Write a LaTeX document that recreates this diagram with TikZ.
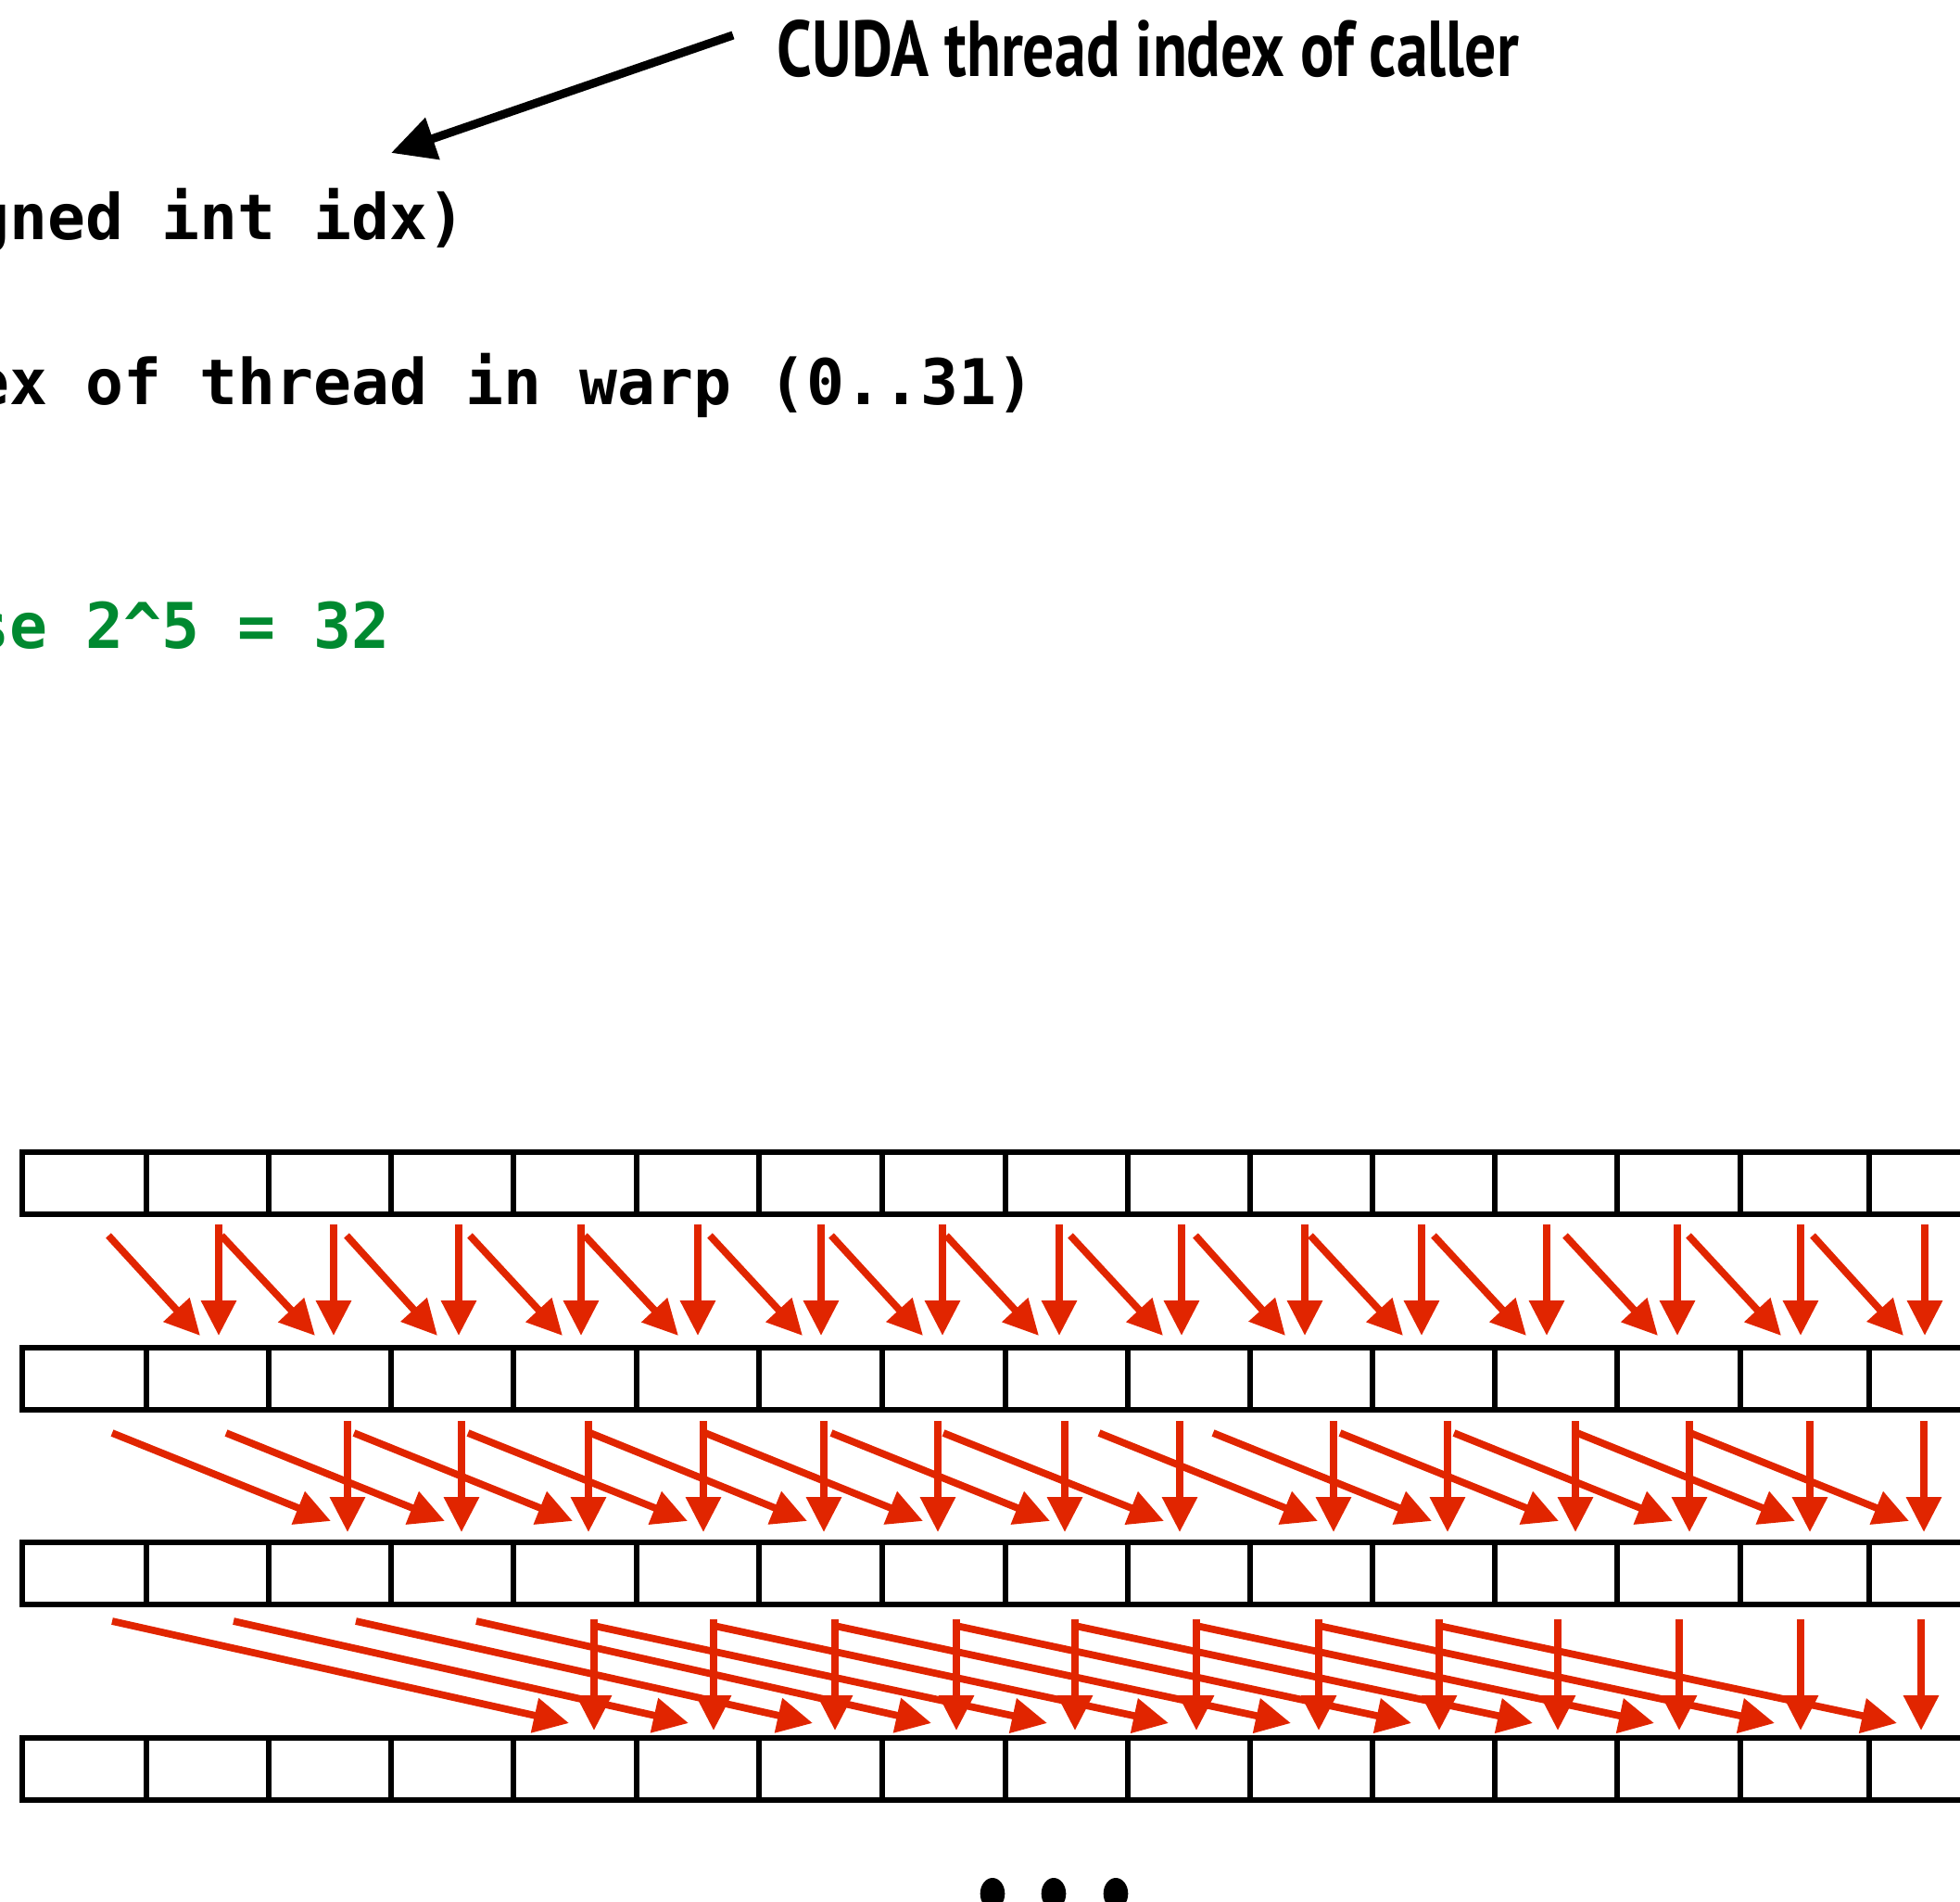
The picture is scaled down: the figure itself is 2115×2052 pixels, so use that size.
\documentclass[tikz,border=0pt]{standalone}
\usepackage{fontspec}
\setmainfont{DejaVu Sans}
\newfontfamily\codefont{DejaVu Sans Mono}
\newfontfamily\labelfont{PT Sans}
\usetikzlibrary{arrows.meta}
\definecolor{scanred}{RGB}{225,37,0}
\definecolor{commentgreen}{RGB}{0,137,48}
\tikzset{
  gridline/.style={draw=black, line width=1.45pt},
  redarrow/.style={draw=scanred, line width=2.2pt, -{Triangle[length=10.8pt,width=10.4pt]}},
  codetext/.style={anchor=base west, inner sep=0pt,
    font=\codefont\bfseries\fontsize{19.35pt}{22pt}\selectfont},
  callout/.style={draw=black, line width=2.6pt, -{Triangle[length=13.5pt,width=13pt]}},
}
\begin{document}
\begin{tikzpicture}[x=0.01cm, y=-0.01cm]
\useasboundingbox (0,0) rectangle (2115,2052);
\clip (0,0) rectangle (2115,2052);

% code fragment
\node[codetext] (sigLine) at (-31,259) {gned int idx)};
\node[codetext] (laneLine) at (-31,436) {ex of thread in warp (0..31)};
\node[codetext, text=commentgreen] (sizeLine) at (-31,699) {se 2\textasciicircum5 = 32};

% annotation
\node[anchor=base west, inner sep=0pt] (callerLabel) at (838,83)
  {\resizebox{8cm}{0.61cm}{\labelfont\bfseries CUDA thread index of caller}};
\coordinate (calloutStart) at (791,38);
\coordinate (calloutTip) at (422,165);
\draw[callout] (calloutStart) -- (calloutTip);

% the four arrays
\foreach \T/\B in {1243/1310, 1454/1521, 1664/1731, 1875/1942} {
  \draw[gridline] (24,\T) rectangle (2170,\B);
  \foreach \x in {158,290,422,554,687,819,952,1085,1217,1349,1481,1613,1745,1878,2017}
    \draw[gridline] (\x,\T) -- (\x,\B);
}

% step 1: offset 1
\foreach \x in {236,360,495,627,753,886,1017,1143,1275,1408,1534,1669,1810,1943,2077}
  \draw[redarrow] (\x,1321) -- (\x,1441);
\foreach \s/\e in {117/216,239/340,374/472,507/607,631/732,766/866,897/996,1021/1121,
                   1155/1255,1290/1387,1414/1514,1547/1647,1689/1789,1822/1922,1956/2054}
  \draw[redarrow] (\s,1333) -- (\e,1441);

% step 2: offset 2
\foreach \x in {375,498,635,759,889,1012,1149,1273,1439,1562,1700,1823,1953,2076}
  \draw[redarrow] (\x,1533) -- (\x,1653);
\foreach \s/\e in {121/357,244/480,382/618,505/742,637/871,761/996,897/1133,1018/1256,
                   1186/1422,1309/1545,1446/1682,1569/1805,1702/1937,1824/2060}
  \draw[redarrow] (\s,1546) -- (\e,1641);

% step 3: offset 4
\foreach \x in {641,770,901,1032,1160,1291,1423,1553,1681,1812,1943,2073}
  \draw[redarrow] (\x,1747) -- (\x,1867);
\foreach \s/\e/\y in {121/614/1749,252/743/1749,384/877/1749,514/1005/1749,
                      641/1130/1754,770/1261/1754,901/1393/1754,1032/1523/1754,
                      1160/1654/1754,1291/1785/1754,1423/1915/1754,1553/2047/1754}
  \draw[redarrow] (\s,\y) -- (\e,1859);

% continuation dots
\foreach \x in {1071,1137,1204}
  \fill (\x,2043) ellipse [x radius=0.133cm, y radius=0.17cm];
\end{tikzpicture}
\end{document}
